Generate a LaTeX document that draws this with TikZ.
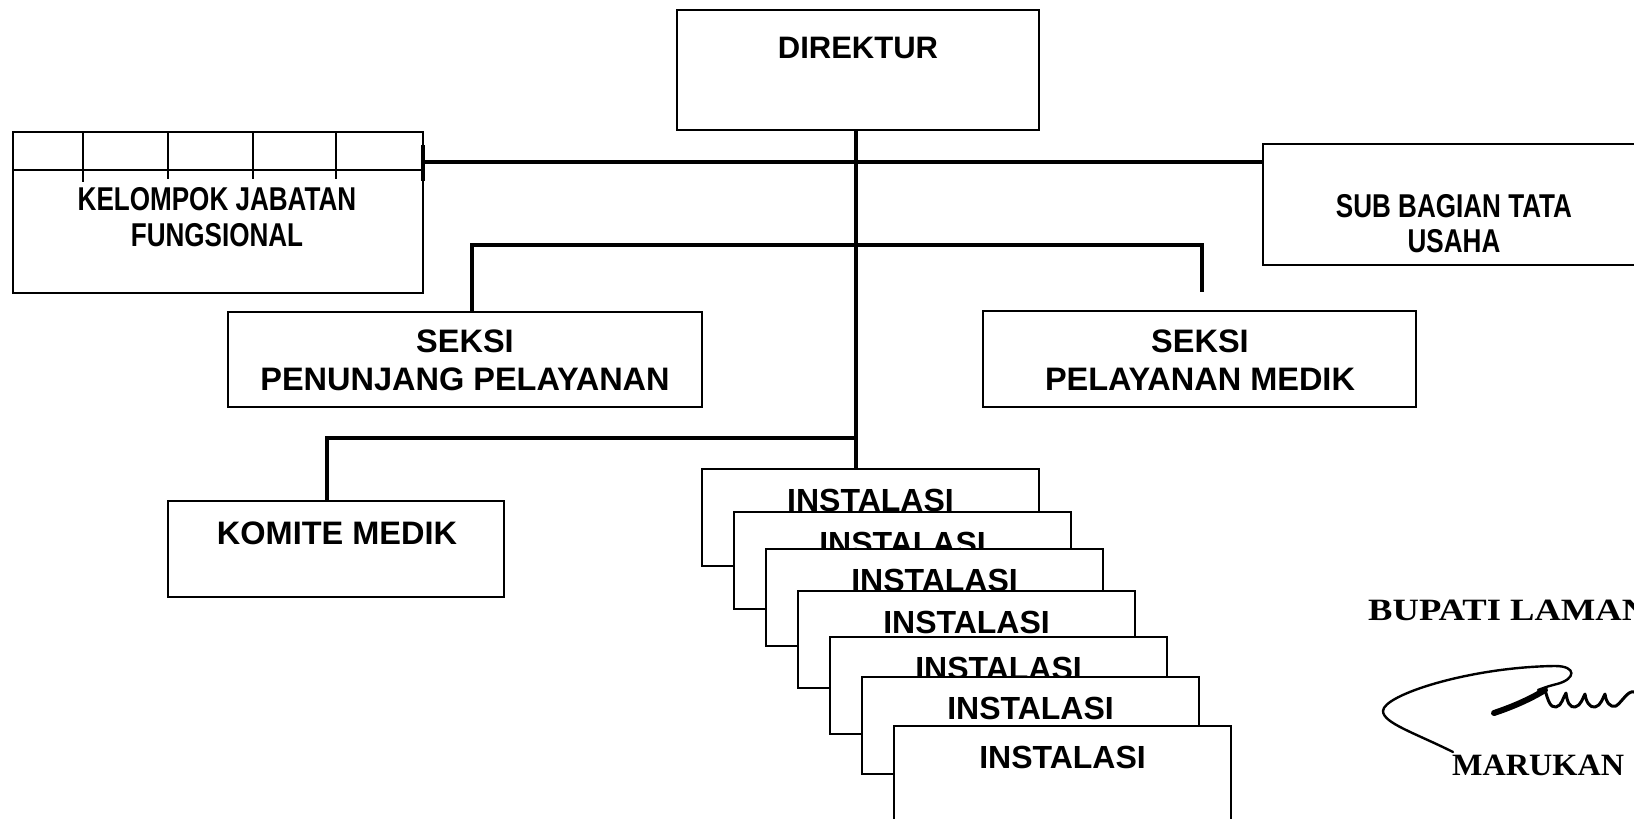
\documentclass[tikz,border=0pt]{standalone}
\usepackage{fontspec}
\newfontfamily\arialfont{Liberation Sans}
\newfontfamily\narrowfont[FakeStretch=0.79]{Liberation Sans}
\newfontfamily\widefont[FakeStretch=1.04]{Liberation Serif}
\newfontfamily\widerfont[FakeStretch=1.18]{Liberation Serif}
\begin{document}
\begin{tikzpicture}[x=1pt,y=-1pt,
  box/.style={draw, line width=1.8pt, fill=white, anchor=north west, inner sep=0pt, outer sep=0pt},
  conn/.style={line width=4pt},
  txt/.style={anchor=base, inner sep=0pt, font=\arialfont\bfseries\fontsize{31}{36}\selectfont},
  btxt/.style={anchor=base, inner sep=0pt, font=\arialfont\bfseries\fontsize{32.5}{38}\selectfont},
  ntxt/.style={anchor=base, inner sep=0pt, font=\narrowfont\bfseries\fontsize{33}{38}\selectfont},
  itxt/.style={anchor=base, inner sep=0pt, font=\arialfont\bfseries\fontsize{32}{36}\selectfont},
  stxt/.style={anchor=base west, inner sep=0pt, font=\widefont\bfseries\fontsize{31}{36}\selectfont},
  sig/.style={line width=2.4pt, line cap=round, line join=round}]
\useasboundingbox (0,0) rectangle (1634,819);
\fill[white] (0,0) rectangle (1634,819);
\clip (0,0) rectangle (1634,819);

% junction points on the main trunk
\coordinate (j1) at (856,162);
\coordinate (j2) at (856,245);
\coordinate (j3) at (856,438);
\coordinate (trunkend) at (856,469);
\coordinate (spmstub) at (1202,292);

% boxes
\node[box, minimum width=362pt, minimum height=120pt] (dir) at (677,10) {};
\node[box, minimum width=410pt, minimum height=161pt] (kjf) at (13,132) {};
\node[box, minimum width=400pt, minimum height=121pt] (sub) at (1263,144) {};
\node[box, minimum width=474pt, minimum height=95pt] (spp) at (228,312) {};
\node[box, minimum width=433pt, minimum height=96pt] (spm) at (983,311) {};
\node[box, minimum width=336pt, minimum height=96pt] (kom) at (168,501) {};

% header grid of the functional group box
\draw[line width=1.8pt] ([yshift=-38pt]kjf.north west) -- ([yshift=-38pt]kjf.north east);
\foreach \gx/\gy in {83/182,168/179,253/179,336/179}
  \draw[line width=1.8pt] (\gx,132) -- (\gx,\gy);
\draw[line width=3.5pt] ([yshift=-13pt]kjf.north east) -- ([yshift=-49pt]kjf.north east);

% connectors
\draw[conn] (kjf.east |- j1) -- (sub.west |- j1);
\draw[conn] ([xshift=7pt]spp.north) |- (spmstub |- j2) -- (spmstub);
\draw[conn] ([xshift=-9pt]kom.north) |- (j3);
\draw[conn] (dir.south -| trunkend) -- (trunkend);

% labels
\node[txt] (tdir) at (858,58) {DIREKTUR};
\node[ntxt] (tkjf1) at (217,210) {KELOMPOK JABATAN};
\node[ntxt] (tkjf2) at (217,246) {FUNGSIONAL};
\node[ntxt] (tsub1) at (1454,217) {SUB BAGIAN TATA};
\node[ntxt] (tsub2) at (1454,252) {USAHA};
\node[btxt] (tspp1) at (465,352) {SEKSI};
\node[btxt] (tspp2) at (465,390) {PENUNJANG PELAYANAN};
\node[btxt] (tspm1) at (1200,352) {SEKSI};
\node[btxt] (tspm2) at (1200,390) {PELAYANAN MEDIK};
\node[btxt] (tkom) at (337,544) {KOMITE MEDIK};

% stacked installation boxes
\foreach \i/\bx/\by in {1/702/469, 2/734/512, 3/766/549, 4/798/591, 5/830/637, 6/862/677, 7/894/726} {
  \node[box, minimum width=337pt, minimum height=97pt] (inst\i) at (\bx,\by) {};
  \node[itxt] (instlbl\i) at ([yshift=-42pt]inst\i.north) {INSTALASI};
}

% signature block
\node[stxt, font=\widerfont\bfseries\fontsize{31}{36}\selectfont] (bupati) at (1368,620) {BUPATI LAMANDAU};
\draw[sig] (1453,752) .. controls (1415,733) and (1383,723) .. (1383,711)
  .. controls (1383,695) and (1470,667) .. (1555,666)
  .. controls (1577,666) and (1576,679) .. (1557,684)
  .. controls (1549,686) .. (1538,690);
\draw[line width=6pt, line cap=round] (1494,713) .. controls (1515,706) and (1532,698) .. (1545,690);
\draw[sig, line width=3pt] (1545,690)
  .. controls (1548,700) and (1550,708) .. (1556,707)
  .. controls (1562,706) and (1563,697) .. (1566,693)
  .. controls (1567,702) and (1570,708) .. (1575,707)
  .. controls (1581,706) and (1583,697) .. (1585,694)
  .. controls (1586,702) and (1590,708) .. (1595,707)
  .. controls (1601,706) and (1603,697) .. (1605,694)
  .. controls (1606,702) and (1610,708) .. (1616,706)
  .. controls (1622,702) and (1628,690) .. (1634,692)
  .. controls (1640,694) and (1642,700) .. (1650,702);
\node[stxt] (marukan) at (1452,775) {MARUKAN};
\end{tikzpicture}
\end{document}
